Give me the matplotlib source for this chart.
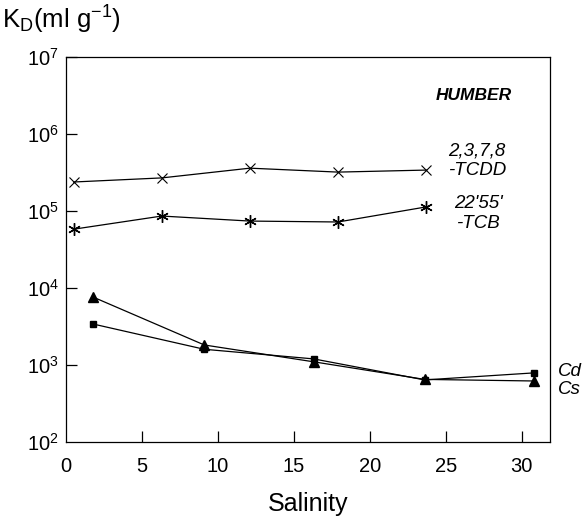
import matplotlib
matplotlib.use("Agg")
import matplotlib.pyplot as plt

plt.rcParams['font.family'] = ['Liberation Sans', 'DejaVu Sans']
plt.rcParams['mathtext.fontset'] = 'custom'
plt.rcParams['mathtext.rm'] = 'Liberation Sans'
plt.rcParams['mathtext.it'] = 'Liberation Sans:italic'

# salinity and K_D values
sal_org = [0.5, 6.3, 12.1, 17.9, 23.7]
kd_tcdd = [2.38e5, 2.69e5, 3.6e5, 3.2e5, 3.4e5]
kd_tcb = [5.8e4, 8.6e4, 7.4e4, 7.2e4, 1.13e5]

sal_met = [1.8, 9.1, 16.3, 23.6, 30.8]
kd_cd = [3.4e3, 1.6e3, 1.2e3, 640, 790]
kd_cs = [7.6e3, 1.82e3, 1.1e3, 650, 620]

xticks = [0, 5, 10, 15, 20, 25, 30]
yticks = [1e2, 1e3, 1e4, 1e5, 1e6, 1e7]

fig = plt.figure(figsize=(5.87, 5.2), dpi=100)
ax = fig.add_axes([66/587, 78/520, 484/587, 385/520])

lw = 0.9
ax.plot(sal_org, kd_tcdd, color='black', lw=lw, marker='x', ms=7, mew=0.8)
ax.plot(sal_org, kd_tcb, color='black', lw=lw, marker=(6, 2, 0), ms=9, mew=1.0)
ax.plot(sal_met, kd_cd, color='black', lw=lw, marker='s', ms=5)
ax.plot(sal_met, kd_cs, color='black', lw=lw, marker='^', ms=7)

ax.set_yscale('log')
ax.set_ylim(1e2, 1e7)
ax.set_xlim(0, 31.85)
ax.set_xticks(xticks)
ax.set_yticks(yticks)
ax.minorticks_off()
ax.tick_params(axis='both', direction='in', length=8, width=0.9, labelsize=14.5)
ax.tick_params(axis='y', pad=5)
ax.tick_params(axis='x', pad=11)
ax.xaxis.get_major_ticks()[0].tick1line.set_visible(False)
ax.yaxis.get_major_ticks()[0].tick1line.set_visible(False)
for s in ax.spines.values():
    s.set_linewidth(0.9)

ax.set_xlabel('Salinity', fontsize=18, labelpad=11)
fig.text(2/587, 1 - 20/520, r'K$_\mathregular{D}$(ml g$^{\mathregular{-1}}$)',
         fontsize=18.5, ha='left', va='center')

ax.text(512/587, 1 - 95/520, 'HUMBER', transform=fig.transFigure, fontsize=12.5,
        style='italic', weight='bold', ha='right', va='center')
ax.text(448/587, 1 - 151/520, '2,3,7,8', transform=fig.transFigure, fontsize=13.5,
        style='italic', ha='left', va='center')
ax.text(448/587, 1 - 171/520, '-TCDD', transform=fig.transFigure, fontsize=13.5,
        style='italic', ha='left', va='center')
ax.text(454/587, 1 - 203/520, "22'55'", transform=fig.transFigure, fontsize=13.5,
        style='italic', ha='left', va='center')
ax.text(456/587, 1 - 224/520, '-TCB', transform=fig.transFigure, fontsize=13.5,
        style='italic', ha='left', va='center')
ax.text(558/587, 1 - 372/520, 'Cd', transform=fig.transFigure, fontsize=13.5,
        style='italic', ha='left', va='center')
ax.text(558/587, 1 - 390/520, 'Cs', transform=fig.transFigure, fontsize=13.5,
        style='italic', ha='left', va='center')

fig.savefig('out.png', dpi=100)
